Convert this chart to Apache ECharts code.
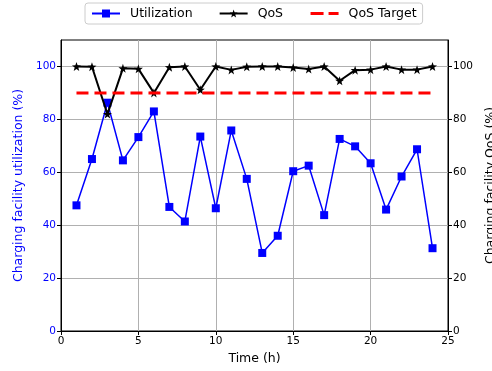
<!DOCTYPE html>
<html>
<head>
<meta charset="utf-8">
<script src="https://cdn.jsdelivr.net/npm/echarts@6/dist/echarts.min.js"></script>
<style>html,body{margin:0;padding:0;background:#fff;}#c{width:492px;height:371px;}</style>
</head>
<body>
<div id="c"></div>
<script>
var hours = [1,2,3,4,5,6,7,8,9,10,11,12,13,14,15,16,17,18,19,20,21,22,23,24];
var utilization = [47.5,65.0,86.3,64.5,73.3,83.0,46.9,41.4,73.5,46.4,75.8,57.5,29.5,36.0,60.4,62.5,43.8,72.6,69.8,63.4,45.9,58.4,68.7,31.3];
var qos = [100,99.9,82.0,99.3,99.1,90.0,99.7,100,91.2,100,98.7,99.9,100,100,99.6,99.0,100,94.6,98.6,98.8,100,98.8,98.8,100];
var qosTarget = [90,90,90,90,90,90,90,90,90,90,90,90,90,90,90,90,90,90,90,90,90,90,90,90];
var xTicks = [0,5,10,15,20,25];
var yTicks = [0,20,40,60,80,100];

function pairs(v){ return hours.map(function(h,i){ return [h, v[i]]; }); }
var FONT = 'DejaVu Sans';
var star = 'path://M0,-10 L2.35,-3.24 L9.51,-3.09 L3.80,1.24 L5.88,8.09 L0,4 L-5.88,8.09 L-3.80,1.24 L-9.51,-3.09 L-2.35,-3.24 Z';

var chart = echarts.init(document.getElementById('c'), null, {renderer:'canvas'});
chart.setOption({
  animation: false,
  textStyle: {fontFamily: FONT},
  grid: {left: 61, right: 44, top: 40, bottom: 40, containLabel: false, outerBoundsMode: 'none',
         show: true, borderColor: '#000', borderWidth: 1, backgroundColor: 'transparent'},
  legend: {
    left: 85, top: 3,
    padding: [4, 6, 4, 6],
    borderColor: '#cccccc', borderWidth: 1, borderRadius: 3,
    itemWidth: 28, itemHeight: 10, itemGap: 26,
    textStyle: {fontFamily: FONT, fontSize: 12.5, color: '#000', padding: [0,0,0,5]},
    data: ['Utilization', 'QoS', {
      name: 'QoS Target',
      itemStyle: {opacity: 0},
      lineStyle: {color: '#ff0000', width: 3, type: [13, 5]}
    }]
  },
  xAxis: {
    type: 'value', min: 0, max: 25, interval: 5,
    name: 'Time (h)', nameLocation: 'middle', nameGap: 20,
    nameTextStyle: {fontFamily: FONT, fontSize: 12.5, color: '#000'},
    axisLine: {show: true, lineStyle: {color: '#000', width: 1}},
    axisTick: {show: true, inside: false, length: 4, lineStyle: {color: '#000'}},
    axisLabel: {fontFamily: FONT, fontSize: 10.5, color: '#000', margin: 5, customValues: xTicks},
    splitLine: {show: true, lineStyle: {color: '#b0b0b0', width: 1}}
  },
  yAxis: [{
    type: 'value', min: 0, max: 110, interval: 20, position: 'left',
    name: 'Charging facility utilization (%)', nameLocation: 'middle', nameGap: 36, nameRotate: 90,
    nameTextStyle: {fontFamily: FONT, fontSize: 12.5, color: '#0000ff'},
    axisLine: {show: true, lineStyle: {color: '#000', width: 1}},
    axisTick: {show: true, inside: false, length: 4, lineStyle: {color: '#000'}, customValues: yTicks},
    axisLabel: {fontFamily: FONT, fontSize: 10.5, color: '#0000ff', margin: 5, customValues: yTicks},
    splitLine: {show: true, lineStyle: {color: '#b0b0b0', width: 1}}
  }, {
    type: 'value', min: 0, max: 110, interval: 20, position: 'right',
    name: 'Charging facility QoS (%)', nameLocation: 'middle', nameGap: 35, nameRotate: 90,
    nameTextStyle: {fontFamily: FONT, fontSize: 12.5, color: '#000'},
    axisLine: {show: true, lineStyle: {color: '#000', width: 1}},
    axisTick: {show: true, inside: false, length: 4, lineStyle: {color: '#000'}, customValues: yTicks},
    axisLabel: {fontFamily: FONT, fontSize: 10.5, color: '#000', margin: 5, customValues: yTicks},
    splitLine: {show: false}
  }],
  series: [{
    name: 'Utilization', type: 'line', yAxisIndex: 0, z: 2,
    data: pairs(utilization),
    symbol: 'rect', symbolSize: 8, showAllSymbol: true,
    lineStyle: {color: '#0000ff', width: 1.5},
    itemStyle: {color: '#0000ff'}
  }, {
    name: 'QoS', type: 'line', yAxisIndex: 1, z: 3,
    data: pairs(qos),
    symbol: star, symbolSize: 9, showAllSymbol: true,
    lineStyle: {color: '#000', width: 2},
    itemStyle: {color: '#000'}
  }, {
    name: 'QoS Target', type: 'line', yAxisIndex: 1, z: 4,
    data: pairs(qosTarget),
    symbol: 'none',
    lineStyle: {color: '#ff0000', width: 3, type: [12, 6]},
    itemStyle: {color: '#ff0000'}
  }]
});
</script>
</body>
</html>
